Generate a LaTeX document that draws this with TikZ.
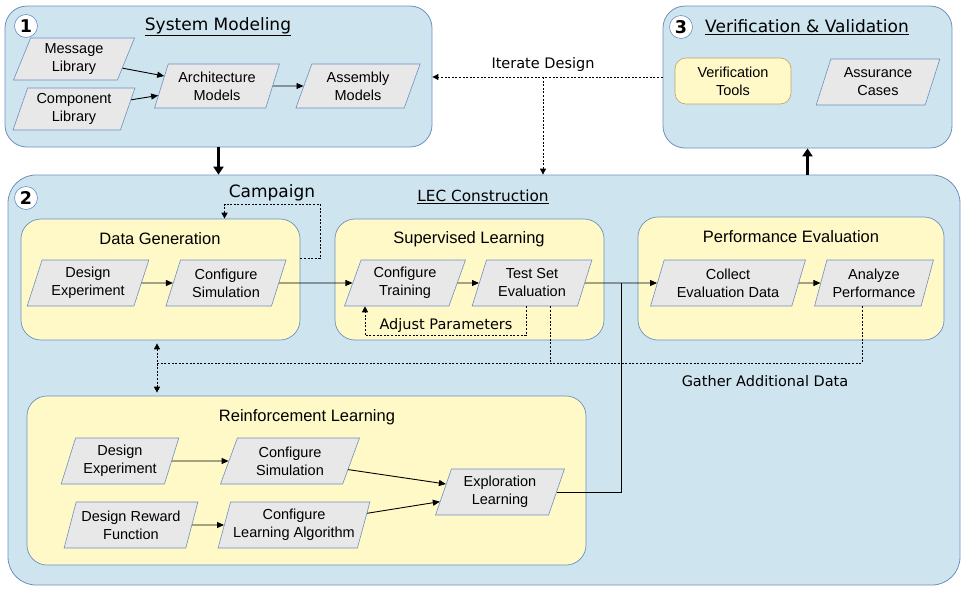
\documentclass[tikz,border=0pt]{standalone}
\usepackage{fontspec}
\setmainfont{Liberation Sans}
\newfontfamily\dejavu{DejaVu Sans}
\usetikzlibrary{shapes.geometric,arrows.meta}

\definecolor{secblue}{RGB}{206,228,239}
\definecolor{edgeblue}{RGB}{110,144,190}
\definecolor{stageyellow}{RGB}{255,249,200}
\definecolor{boxgray}{RGB}{232,232,232}
\definecolor{toolgold}{RGB}{185,165,100}

\newcommand{\boxfont}{\fontsize{14.5}{18}\selectfont}
\newcommand{\stagefont}{\fontsize{16.5}{19}\selectfont}
\newcommand{\secfont}{\dejavu\fontsize{17}{20}\selectfont}
\newcommand{\notefont}{\dejavu\fontsize{14.5}{17}\selectfont}

\tikzset{
  section/.style={draw=edgeblue, fill=secblue, line width=0.8pt, rounded corners=22pt, inner sep=0pt},
  stage/.style={draw=edgeblue, fill=stageyellow, line width=0.7pt, rounded corners=20pt, inner sep=0pt},
  para/.style={trapezium, trapezium left angle=70, trapezium right angle=110,
    trapezium stretches=true, draw=edgeblue, fill=boxgray, line width=0.6pt,
    align=center, font=\boxfont, inner sep=1pt, minimum height=46pt, minimum width=#1},
  para/.default=122pt,
  numdot/.style={circle, draw=edgeblue, fill=white, line width=0.6pt, inner sep=0pt,
    minimum size=23pt, font=\dejavu\bfseries\fontsize{17.5}{17.5}\selectfont},
  flow/.style={line width=0.9pt, -{Triangle[length=7pt,width=6pt]}},
  bigflow/.style={line width=3pt, -{Triangle[length=8pt,width=10pt]}},
  loopback/.style={line width=0.9pt, dash pattern=on 2pt off 1.6pt, -{Triangle[length=6pt,width=6pt]}},
}

\begin{document}
\begin{tikzpicture}[x=1pt,y=-1pt]
\useasboundingbox (0,0) rectangle (961,592);

% sections
\node[section, minimum width=427pt, minimum height=141pt] (sm) at (218.5,76.5) {};
\node[section, minimum width=289pt, minimum height=142pt] (vv) at (807.5,77) {};
\node[section, minimum width=952pt, minimum height=410pt, rounded corners=28pt] (lec) at (484,380) {};

\node[numdot] (n1) at (26,26) {1};
\node[numdot] (n2) at (26,198) {2};
\node[numdot] (n3) at (681,27) {3};

\node[font=\secfont] (smtitle) at (218,27) {\underline{System Modeling}};
\node[font=\secfont] (vvtitle) at (807,27) {\underline{Verification \& Validation}};
\node[font=\dejavu\fontsize{15.3}{18}\selectfont] (lectitle) at (483,197) {\underline{LEC Construction}};

% system modeling
\node[para, minimum height=42pt] (msglib) at (74,59) {Message\\Library};
\node[para, minimum height=42pt] (complib) at (74,109) {Component\\Library};
\node[para=125pt, minimum height=44pt] (archmod) at (217,86) {Architecture\\Models};
\node[para=125pt, minimum height=44pt] (asmmod) at (358,86) {Assembly\\Models};

\draw[flow] (msglib) -- (archmod);
\draw[flow] (complib) -- (archmod);
\draw[flow] (archmod) -- (asmmod);

% verification and validation
\node[draw=toolgold, fill=stageyellow, rounded corners=11pt, line width=0.6pt,
  minimum width=116pt, minimum height=46pt, align=center, font=\boxfont] (vtools) at (733,81) {Verification\\Tools};
\node[para=124pt] (asscase) at (878,82) {Assurance\\Cases};

% stages of LEC construction
\node[stage, minimum width=279pt, minimum height=121pt] (dg) at (160.5,279.5) {};
\node[stage, minimum width=269pt, minimum height=121pt] (sl) at (469.5,279.5) {};
\node[stage, minimum width=306pt, minimum height=123pt] (pe) at (791,278.5) {};
\node[stage, minimum width=559pt, minimum height=169pt] (rl) at (306.5,480.5) {};

\node[font=\stagefont] (dgtitle) at (160,239) {Data Generation};
\node[font=\stagefont] (sltitle) at (469,239) {Supervised Learning};
\node[font=\stagefont] (petitle) at (791,237) {Performance Evaluation};
\node[font=\stagefont] (rltitle) at (307,417) {Reinforcement Learning};

\node[para] (dgde) at (88,283) {Design\\Experiment};
\node[para=121pt] (dgcs) at (226,283) {Configure\\Simulation};
\node[para=121pt] (ct) at (405,283) {Configure\\Training};
\node[para=121pt] (tse) at (532,283) {Test Set\\Evaluation};
\node[para=155pt] (ced) at (728,283) {Collect\\Evaluation Data};
\node[para=119pt] (ap) at (874,283) {Analyze\\Performance};

\node[para=118pt] (rlde) at (120,461) {Design\\Experiment};
\node[para=140pt] (rlcs) at (290,461) {Configure\\Simulation};
\node[para=134pt] (rldr) at (131,525) {Design Reward\\Function};
\node[para=152pt] (rlcla) at (294,525) {Configure\\Learning Algorithm};
\node[para=129pt] (expl) at (500,492) {Exploration\\Learning};

\draw[flow] (dgde) -- (dgcs);
\draw[flow] (dgcs) -- (ct);
\draw[flow] (ct) -- (tse);
\draw[flow] (tse) -- (ced);
\draw[flow] (ced) -- (ap);
\draw[flow] (rlde) -- (rlcs);
\draw[flow] (rldr) -- (rlcla);
\draw[flow] (rlcs) -- (expl);
\draw[flow] (rlcla) -- (expl);

% RL joins the main line
\coordinate (join) at (621,283);
\draw[line width=0.9pt] (expl.east) -| (join);

% hand-offs between sections
\draw[bigflow] (sm.south) -- (sm.south |- lec.north);
\draw[bigflow] (vv.south |- lec.north) -- (vv.south);

% feedback loops
\coordinate (itr) at (543,77);
\draw[loopback] (vv.west |- itr) -- (sm.east |- itr);
\draw[loopback] (itr) -- (itr |- lec.north);
\node[font=\notefont] (itrlabel) at (543,64) {Iterate Design};

\coordinate (camp) at (320,204);
\draw[loopback] ([yshift=21pt]dg.east) -| (camp) -| ([xshift=64pt]dg.north);
\node[font=\dejavu\fontsize{17}{20}\selectfont] (camplabel) at (272,193) {Campaign};

\draw[loopback] ([xshift=-6pt]tse.south) -- ++(0,29) -| ([xshift=-40pt]ct.south);
\node[font=\notefont] (adjlabel) at (446,325) {Adjust Parameters};

\coordinate (gad) at (157,363);
\coordinate (apdrop) at ([xshift=-12pt]ap.south);
\coordinate (tsdrop) at ([xshift=18pt]tse.south);
\draw[line width=0.9pt, dash pattern=on 2pt off 1.6pt] (apdrop) |- (gad);
\draw[line width=0.9pt, dash pattern=on 2pt off 1.6pt] (tsdrop) -- (tsdrop |- gad);
\draw[loopback, {Triangle[length=6pt,width=6pt]}-{Triangle[length=6pt,width=6pt]}, shorten <=3pt, shorten >=3pt]
  (dg.south -| gad) -- (rl.north -| gad);
\node[font=\notefont] (gadlabel) at (765,381) {Gather Additional Data};

\end{tikzpicture}
\end{document}
